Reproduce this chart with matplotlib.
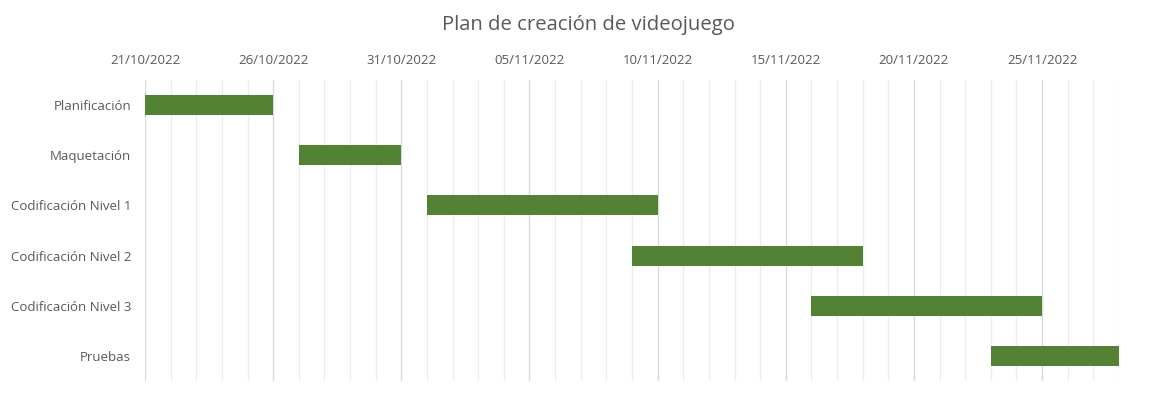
import matplotlib
matplotlib.use("Agg")
import matplotlib.pyplot as plt
import matplotlib.dates as mdates
from matplotlib.ticker import FixedLocator
import datetime as dt

tasks = ["Planificación", "Maquetación", "Codificación Nivel 1",
         "Codificación Nivel 2", "Codificación Nivel 3", "Pruebas"]
starts = ["2022-10-21", "2022-10-27", "2022-11-01", "2022-11-09", "2022-11-16", "2022-11-23"]
durations = [5, 4, 9, 9, 9, 5]
axis_start = "2022-10-21"
axis_end = "2022-11-28"

plt.rcParams['font.family'] = ['Open Sans', 'DejaVu Sans']

fig = plt.figure(figsize=(11.76, 4.01), dpi=100)
ax = fig.add_axes([0.1233, 0.0499, 0.8282, 0.7506])

start_nums = [mdates.date2num(dt.datetime.strptime(s, "%Y-%m-%d")) for s in starts]
x0 = mdates.date2num(dt.datetime.strptime(axis_start, "%Y-%m-%d"))
x1 = mdates.date2num(dt.datetime.strptime(axis_end, "%Y-%m-%d"))

ypos = list(range(len(tasks)))
ax.barh(ypos, durations, left=start_nums, height=0.4, color="#548235", zorder=3)

ax.set_xlim(x0, x1)
ax.set_ylim(len(tasks) - 0.5, -0.5)
ax.set_yticks(ypos)
ax.set_yticklabels(tasks)

major = [x0 + 5 * i for i in range(int((x1 - x0) // 5) + 1)]
minor = [x0 + i for i in range(int(x1 - x0) + 1) if i % 5 != 0]
ax.xaxis.set_major_locator(FixedLocator(major))
ax.xaxis.set_minor_locator(FixedLocator(minor))
ax.xaxis.set_major_formatter(mdates.DateFormatter("%d/%m/%Y"))
ax.xaxis.tick_top()

ax.grid(True, axis="x", which="major", color="#d9d9d9", linewidth=1.0, zorder=0)
ax.grid(True, axis="x", which="minor", color="#ededed", linewidth=1.0, zorder=0)
ax.set_axisbelow(True)

ax.tick_params(axis="x", which="both", length=0, pad=9, labelsize=9.5, labelcolor="#595959")
ax.tick_params(axis="y", length=0, pad=10, labelsize=9.5, labelcolor="#595959")

for s in ax.spines.values():
    s.set_visible(False)

fig.text(0.5, 1 - 25 / 401, "Plan de creación de videojuego", ha="center", va="center",
         fontsize=14.6, color="#595959")

fig.savefig("out.png", dpi=100)
